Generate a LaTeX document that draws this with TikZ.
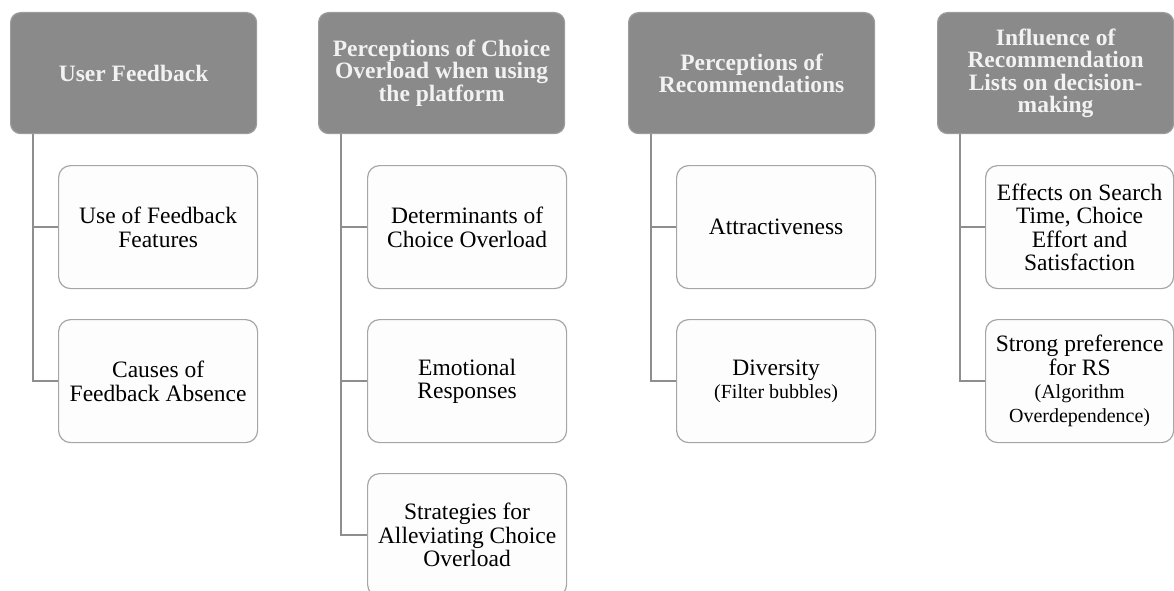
\documentclass[tikz,border=0pt]{standalone}
\usepackage{fontspec}
\setmainfont{Liberation Serif}
\definecolor{headgray}{HTML}{8A8A8A}
\definecolor{headline}{HTML}{9C9C9C}
\definecolor{itemline}{HTML}{A6A6A6}
\definecolor{itemfill}{HTML}{FDFDFD}
\definecolor{linkgray}{HTML}{8E8E8E}
\newcommand{\sm}[1]{{\fontsize{20}{19.5}\selectfont #1}}
\newcommand{\hdr}[3]{
\node[head] (#1) at (#2,12) {#3};}
\newcommand{\itm}[5]{
\node[item] (#2) at (#3,#4) {#5};
\draw[link] ([xshift=23pt]#1.south west) |- (#2.west);}

\begin{document}
\begin{tikzpicture}[x=1pt,y=-1pt,
  head/.style={draw=headline,line width=1.2pt,fill=headgray,rounded corners=10pt,
    anchor=north west,minimum width=246pt,minimum height=121pt,inner sep=3pt,
    align=center,text=white!95!black,font=\fontsize{23.5}{22.5}\selectfont\bfseries},
  item/.style={draw=itemline,line width=1.2pt,fill=itemfill,rounded corners=12pt,
    anchor=north west,minimum width=199pt,minimum height=123pt,inner sep=2pt,
    align=center,font=\fontsize{23.5}{23.5}\selectfont},
  link/.style={draw=linkgray,line width=1.3pt}]
\useasboundingbox (0,0) rectangle (1174,591);
\clip (0,0) rectangle (1174,591);
% column 1
\hdr{h1}{10}{User Feedback}
\itm{h1}{a1}{58}{165}{Use of Feedback\\Features}
\itm{h1}{a2}{58}{319}{Causes of\\Feedback Absence}
% column 2
\hdr{h2}{318}{Perceptions of Choice\\Overload when using\\the platform}
\itm{h2}{b1}{367}{165}{Determinants of\\Choice Overload}
\itm{h2}{b2}{367}{319}{Emotional\\Responses}
\itm{h2}{b3}{367}{473}{Strategies for\\Alleviating Choice\\Overload}
% column 3
\hdr{h3}{628}{Perceptions of\\Recommendations}
\itm{h3}{c1}{676}{165}{Attractiveness}
\itm{h3}{c2}{676}{319}{Diversity\\\sm{(Filter bubbles)}}
% column 4
\begin{scope}[head/.append style={minimum width=236pt},
  item/.append style={minimum width=188pt}]
\hdr{h4}{937}{Influence of\\Recommendation\\Lists on decision-\\making}
\itm{h4}{d1}{985}{165}{Effects on Search\\Time, Choice\\Effort and\\Satisfaction}
\itm{h4}{d2}{985}{319}{Strong preference\\for RS\\\sm{(Algorithm}\\\sm{Overdependence)}}
\end{scope}
\end{tikzpicture}
\end{document}
